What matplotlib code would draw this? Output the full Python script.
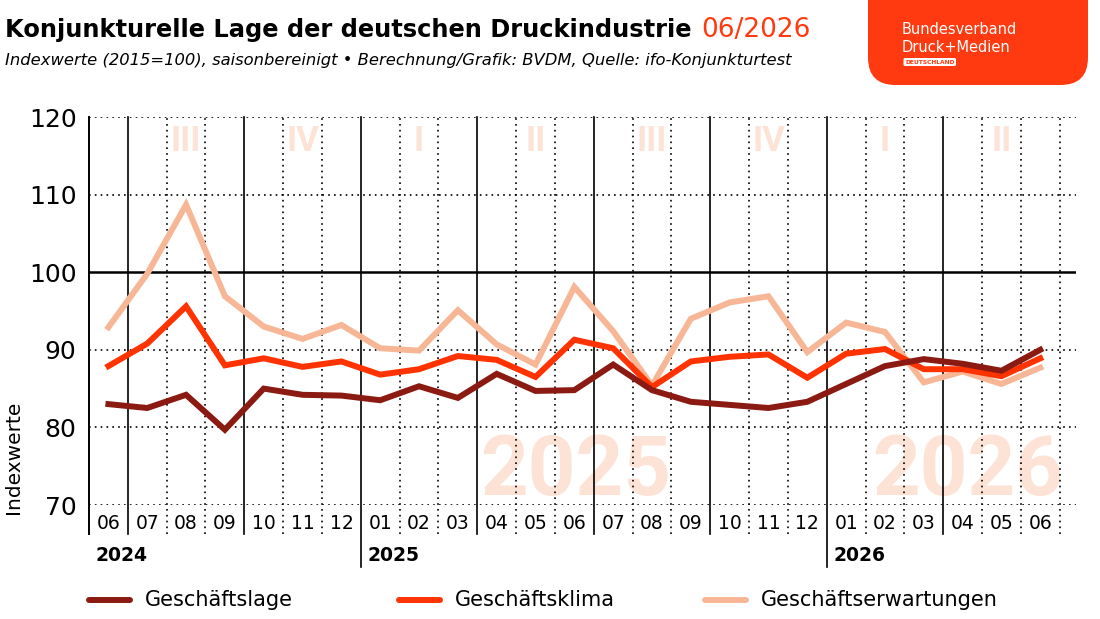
import matplotlib
matplotlib.use("Agg")
import matplotlib.pyplot as plt
import matplotlib.transforms as mtransforms
from matplotlib.lines import Line2D
from matplotlib.patches import FancyBboxPatch
import numpy as np

# Monatswerte 06/2024 - 06/2026
months = ["06", "07", "08", "09", "10", "11", "12",
          "01", "02", "03", "04", "05", "06", "07", "08", "09", "10", "11", "12",
          "01", "02", "03", "04", "05", "06"]
lage = [83.0, 82.5, 84.2, 79.7, 85.0, 84.2, 84.1,
        83.5, 85.3, 83.8, 86.9, 84.7, 84.8, 88.1, 84.8, 83.3, 82.9, 82.5, 83.3,
        85.6, 87.9, 88.8, 88.2, 87.3, 90.0]
klima = [87.9, 90.8, 95.6, 88.0, 88.9, 87.8, 88.5,
         86.8, 87.5, 89.2, 88.7, 86.5, 91.3, 90.2, 85.2, 88.5, 89.1, 89.4, 86.4,
         89.5, 90.1, 87.5, 87.5, 86.6, 88.9]
erwartungen = [92.9, 99.8, 108.7, 96.9, 93.0, 91.4, 93.2,
               90.2, 89.9, 95.1, 90.7, 88.1, 98.1, 92.4, 85.4, 94.0, 96.1, 96.9, 89.7,
               93.5, 92.3, 85.8, 87.2, 85.6, 87.7]
series_names = ["Geschäftslage", "Geschäftsklima", "Geschäftserwartungen"]
series_colors = ["#8b1a12", "#ff3300", "#f7b796"]

years = ["2024", "2025", "2026"]
year_start = [0, 7, 19]          # Index des ersten Monats im Jahr
quarters = ["III", "IV", "I", "II", "III", "IV", "I", "II"]
quarter_mid = [2, 5, 8, 11, 14, 17, 20, 23]
watermarks = ["2025", "2026"]
watermark_right = [14.5, 24.6]

LIGHT = "#fde2d6"
RED = "#ff3a10"
MARK = ["Roboto", "DejaVu Sans"]

plt.rcParams["font.family"] = ["DejaVu Sans"]

fig = plt.figure(figsize=(11, 6.19), dpi=100)
ax = fig.add_axes([89 / 1100, 1 - 505 / 619, (1076 - 89) / 1100, (505 - 117) / 619])

x = np.arange(len(months))
ax.set_xlim(-0.5, 24.92)
ax.set_ylim(70, 120)

# Gitter
for v in [70, 80, 90, 110, 120]:
    ax.axhline(v, color="black", lw=1.2, ls=(0, (1, 2.5)), zorder=1)
ax.axhline(100, color="black", lw=1.8, zorder=1)

trans = mtransforms.blended_transform_factory(ax.transData, ax.transAxes)
for i in range(len(months)):
    b = i + 0.5
    solid = (i + 1) % 3 == 1 and i < len(months) - 1
    is_year = (i + 1) in year_start
    if solid:
        ax.plot([b, b], [-0.16 if is_year else -0.075, 1], color="black", lw=1.2,
                transform=trans, clip_on=False, zorder=1)
    else:
        ax.plot([b, b], [-0.075, 1], color="black", lw=1.2, ls=(0, (1, 2.5)),
                transform=trans, clip_on=False, zorder=1)
ax.plot([-0.5, -0.5], [-0.075, 1], color="black", lw=1.4, transform=trans,
        clip_on=False, zorder=1)

# Quartale und Jahres-Wasserzeichen
for q, m in zip(quarters, quarter_mid):
    ax.text(m, 116.8, q, ha="center", va="center", fontsize=25, fontweight="bold",
            color=LIGHT, family=MARK, zorder=0)
for w, xr in zip(watermarks, watermark_right):
    ax.text(xr, -0.018, w, transform=trans, ha="right", va="bottom", fontsize=60,
            fontweight="bold", color=LIGHT, family=MARK, zorder=0)

# Linien
for vals, col in zip([erwartungen, klima, lage], series_colors[::-1]):
    ax.plot(x, vals, color=col, lw=4.3, solid_joinstyle="miter", zorder=3)

for s in ["top", "right", "bottom", "left"]:
    ax.spines[s].set_visible(False)
ax.tick_params(length=0)
ax.set_xticks([])
ax.set_yticks([70, 80, 90, 100, 110, 120])
ax.set_yticklabels([70, 80, 90, 100, 110, 120], fontsize=18)
ax.tick_params(axis="y", pad=9)

for i, m in enumerate(months):
    ax.text(i, -0.047, m, transform=trans, ha="center", va="center", fontsize=13.5)
for y, s in zip(years, year_start):
    ax.text(s - 0.33, -0.13, y, transform=trans, ha="left", va="center", fontsize=13.5,
            fontweight="bold")

fig.text(14 / 1100, 1 - 457 / 619, "Indexwerte", rotation=90, ha="center", va="center",
         fontsize=14.5)

# Titel
t = fig.text(5 / 1100, 1 - 37 / 619, "Konjunkturelle Lage der deutschen Druckindustrie",
             fontsize=17.4, fontweight="bold", ha="left", va="baseline")
fig.canvas.draw()
bb = t.get_window_extent()
fig.text((bb.x1 + 10) / 1100, 1 - 37 / 619, "06/2026", fontsize=19, color=RED,
         ha="left", va="baseline")
fig.text(5 / 1100, 1 - 65 / 619,
         "Indexwerte (2015=100), saisonbereinigt • Berechnung/Grafik: BVDM, Quelle: ifo-Konjunkturtest",
         fontsize=11.8, style="italic", ha="left", va="baseline")

# Logo
logo = FancyBboxPatch((868 / 1100, 1 - 85 / 619), 0.2, 0.3,
                      boxstyle="round,pad=0,rounding_size=0.025",
                      transform=fig.transFigure, facecolor=RED, edgecolor="none",
                      mutation_aspect=1100 / 619, clip_on=False)
fig.add_artist(logo)
fig.text(902 / 1100, 1 - 34 / 619, "Bundesverband", color="white", fontsize=10.5,
         ha="left", va="baseline")
fig.text(902 / 1100, 1 - 52 / 619, "Druck+Medien", color="white", fontsize=10.5,
         ha="left", va="baseline")
fig.text(905 / 1100, 1 - 62 / 619, "DEUTSCHLAND", color=RED, fontsize=4.3,
         fontweight="bold", ha="left", va="center",
         bbox=dict(boxstyle="round,pad=0.25", facecolor="white", edgecolor="none"))

# Legende
leg_x = [89, 399, 705]
for name, col, lx in zip(series_names, series_colors, leg_x):
    fig.add_artist(Line2D([lx / 1100, (lx + 41) / 1100], [1 - 600 / 619] * 2,
                          color=col, lw=4.3, transform=fig.transFigure,
                          solid_capstyle="round"))
    fig.text((lx + 56) / 1100, 1 - 600 / 619, name, fontsize=15, ha="left",
             va="center")

fig.savefig("out.png", dpi=100)
